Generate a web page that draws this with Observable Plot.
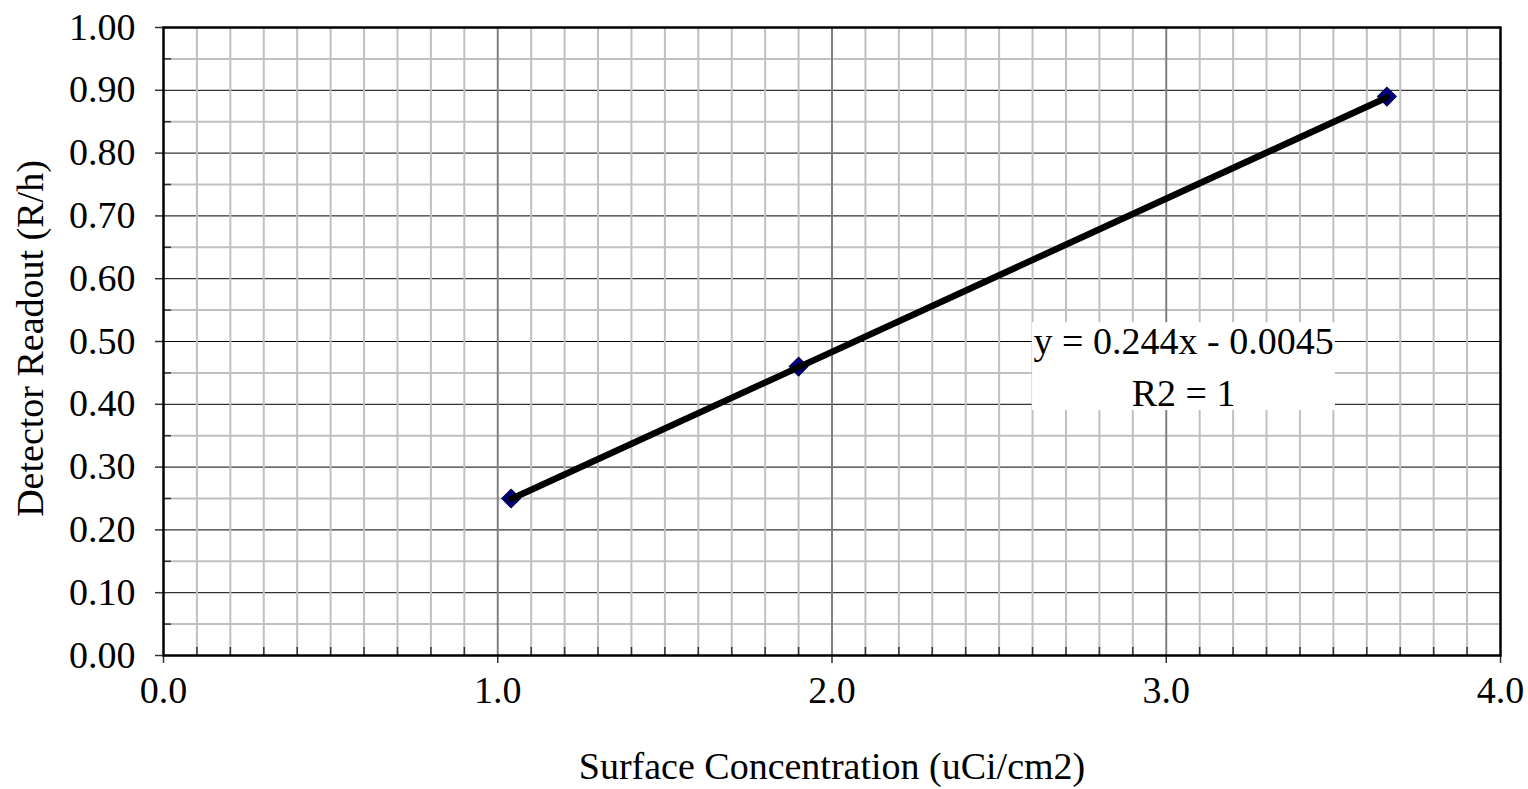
<!DOCTYPE html>
<html><head><meta charset="utf-8">
<script src="https://cdn.jsdelivr.net/npm/d3@7"></script>
<script src="https://cdn.jsdelivr.net/npm/@observablehq/plot@0.6"></script>
<style>html,body{margin:0;padding:0;background:#fff;} svg{display:block}</style>
</head><body><div id="chart"></div>
<script>
// ---- data ----
const concentration = [1.04, 1.90, 3.66];   // uCi/cm2
const readout = [0.25, 0.46, 0.89];         // R/h
const xTicks = [0, 1, 2, 3, 4];
const yTicks = [0, 0.1, 0.2, 0.3, 0.4, 0.5, 0.6, 0.7, 0.8, 0.9, 1.0];
const slope = 0.244;
const intercept = -0.0045;
const equationLines = ["y = 0.244x - 0.0045", "R2 = 1"];
const xTitle = "Surface Concentration (uCi/cm2)";
const yTitle = "Detector Readout (R/h)";

// annotation placement (data units)
const labelX = 3.052;
const labelY = [0.500, 0.417];
const labelBox = {x1: 2.60, x2: 3.506, y1: 0.390, y2: 0.530};

// ---- derived ----
const points = concentration.map((x, i) => ({x, y: readout[i]}));
const xExtent = d3.extent(concentration);
const trend = xExtent.map(x => ({x, y: slope * x + intercept}));
const xMinor = d3.range(1, 40).filter(i => i % 10).map(i => i / 10);
const xMajorInner = xTicks.filter(v => v > 0 && v < 4);
const yHalf = d3.range(1, 20, 2).map(i => i / 20);
const yMajorInner = yTicks.filter(v => v > 0 && v < 1);
const eqRows = equationLines.map((t, i) => ({t, x: labelX, y: labelY[i]}));

const font = "'Liberation Serif', 'Times New Roman', serif";
const fs = 38;

const chart = Plot.plot({
  width: 1528,
  height: 789,
  marginTop: 27,
  marginRight: 28,
  marginBottom: 134,
  marginLeft: 163,
  style: {fontFamily: font, fontSize: fs + "px", background: "#fff", color: "#000"},
  x: {domain: [0, 4], axis: null},
  y: {domain: [0, 1], axis: null},
  marks: [
    // horizontal grid
    Plot.ruleY(yHalf, {stroke: "#c0c0c0", strokeWidth: 2}),
    Plot.ruleY(yMajorInner, {stroke: "#000", strokeWidth: 1}),
    // vertical grid
    Plot.ruleX(xMinor, {stroke: "#c0c0c0", strokeWidth: 2}),
    Plot.ruleX(xMajorInner, {stroke: "#808080", strokeWidth: 2}),
    // label background
    Plot.rect([labelBox], {x1: "x1", x2: "x2", y1: "y1", y2: "y2", fill: "#fff"}),
    // y ticks: major outward, minor inward
    Plot.ruleY(yTicks, {x1: 0, x2: 0, insetLeft: -8, stroke: "#333", strokeWidth: 1.5}),
    Plot.ruleY(yHalf, {x1: 0, x2: 0, insetRight: -8, stroke: "#333", strokeWidth: 1.5}),
    // x ticks: major outward, minor inward
    Plot.ruleX(xTicks, {y1: 0, y2: 0, insetBottom: -8, stroke: "#333", strokeWidth: 1.5}),
    Plot.ruleX(xMinor, {y1: 0, y2: 0, insetTop: -8, stroke: "#333", strokeWidth: 1.5}),
    // frame
    Plot.frame({stroke: "#000", strokeWidth: 2.5}),
    // tick labels
    Plot.text(yTicks, {x: 0, y: d => d, text: d => d3.format(".2f")(d), textAnchor: "end", dx: -28, fontSize: fs, fill: "#000"}),
    Plot.text(xTicks, {x: d => d, y: 0, text: d => d3.format(".1f")(d), lineAnchor: "middle", dy: 35, fontSize: fs, fill: "#000"}),
    // axis titles
    Plot.text([xTitle], {frameAnchor: "bottom", text: d => d, textAnchor: "middle", lineAnchor: "middle", dy: 111, fontSize: fs, fill: "#000"}),
    Plot.text([yTitle], {frameAnchor: "left", text: d => d, rotate: -90, textAnchor: "middle", lineAnchor: "middle", dx: -133, dy: -3, fontSize: fs, fill: "#000"}),
    // markers
    Plot.dot(points, {x: "x", y: "y", symbol: "square", r: 7.5, rotate: 45, fill: "#000080", stroke: "#000040", strokeWidth: 1}),
    // trendline
    Plot.line(trend, {x: "x", y: "y", stroke: "#000", strokeWidth: 6.5}),
    // equation
    Plot.text(eqRows, {x: "x", y: "y", text: "t", lineAnchor: "middle", fontSize: fs, fill: "#000"})
  ]
});
document.getElementById("chart").appendChild(chart);
</script>
</body></html>
